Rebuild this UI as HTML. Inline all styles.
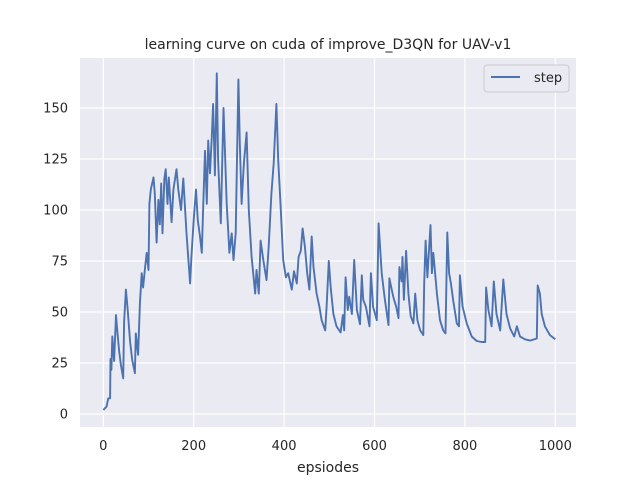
<!DOCTYPE html>
<html><head><meta charset="utf-8"><style>
body{margin:0;background:#fff;font-family:"Liberation Sans","DejaVu Sans",sans-serif;}
svg text{font-family:"DejaVu Sans","Liberation Sans",sans-serif;fill:#262626;}
</style></head><body>
<svg id="chart" width="640" height="480" viewBox="0 0 640 480">
<rect x="0" y="0" width="640" height="480" fill="#fff"/>
<rect x="80" y="58" width="496" height="369" fill="#eaeaf2"/>
<g id="grid"></g>
<g id="ticks"></g>
<path id="line" fill="none" stroke="#4c72b0" stroke-width="1.9" stroke-linejoin="round"/>
<text x="328" y="49" font-size="14" text-anchor="middle">learning curve on cuda of improve_D3QN for UAV-v1</text>
<text x="328" y="472" font-size="14" text-anchor="middle">epsiodes</text>
<g>
<rect x="484" y="65" width="85" height="27" rx="3" fill="#eaeaf2" stroke="#cccccc" stroke-width="1"/>
<line x1="491" y1="77" x2="520" y2="77" stroke="#4c72b0" stroke-width="1.9"/>
<text x="534" y="82" font-size="13">step</text>
</g>
</svg>
<script>
const episodes=[0,7,11,15,16,18,20,24,28,30,35,39,44,46,50,54,59,64,70,72,77,81,85,88,92,96,100,102,105,111,114,118,122,125,128,131,135,138,142,145,151,155,162,166,172,177,184,192,195,200,205,209,214,218,221,225,229,232,236,240,243,247,251,254,260,266,273,279,284,288,293,299,302,306,311,317,322,328,336,339,344,348,354,361,366,372,377,383,387,392,398,404,409,417,422,428,432,437,441,446,451,456,461,465,472,478,483,491,494,499,503,509,516,525,530,533,536,541,544,550,555,561,568,572,575,581,589,592,597,605,609,616,623,631,633,638,642,648,653,655,660,662,665,670,675,680,686,690,695,701,708,710,713,717,721,724,727,730,738,745,752,757,761,765,769,774,782,787,789,795,804,815,826,837,845,847,852,859,864,870,878,885,892,900,909,915,922,933,944,959,961,966,970,977,988,1000];
const steps=[2,3.6,7.7,7.7,27,21.6,38,26,48.5,43,31,24,17.5,45,61,51,36,26.5,20,39.5,29,54,69,62,71,79,70.6,103,110,116,108,84,105,93,113,88.6,115,120,103,116,94,110,120,110,100,115.5,88.6,64,77,95,110,95,87,79,101.6,129,103,134,118,136,152,117,167,124.5,93.5,150,103,79,88.6,75.5,88.6,164,133,103,123,138,100,77,59,70.6,59,85,75.5,65.7,82,108,123,152,124.5,103,75.5,67,69,61,70,64,77,80,91,82,69,61,87,72,59,52.6,46,41,52.6,75,62,49,43,40,48.5,41,67,51,57.5,49,75.5,51,44,68,56,52.6,43,69,52.6,46,93.5,69,56,43.6,66.5,61,57,52.6,47,72,65,77,56,80,59,48,44.4,59,46,41,38.7,64,85,67,82,92.6,69,79,59,46,41,39.5,89,69,64,56,44.4,43,68,52.6,44.4,38,35.8,35.3,35.3,62,51,43,65,49,41,66,49,42,38,43,38,36.6,36,37,63,59,49,43,38.7,36.6];
const xTicks=[0,200,400,600,800,1000];
const yTicks=[0,25,50,75,100,125,150];
const xs=v=>103.3+v*0.452;
const ys=v=>414-v*2.04;
const NS="http://www.w3.org/2000/svg";
const grid=document.getElementById('grid'),ticks=document.getElementById('ticks');
xTicks.forEach(t=>{
 const l=document.createElementNS(NS,'line');
 l.setAttribute('x1',xs(t));l.setAttribute('x2',xs(t));l.setAttribute('y1',58);l.setAttribute('y2',427);
 l.setAttribute('stroke','#fff');l.setAttribute('stroke-width','1.2');
 
 
 grid.appendChild(l);
 const tx=document.createElementNS(NS,'text');
 tx.setAttribute('x',xs(t));tx.setAttribute('y',450);tx.setAttribute('font-size','13');tx.setAttribute('text-anchor','middle');
 tx.textContent=t;
 
 
 ticks.appendChild(tx);
});
yTicks.forEach(t=>{
 const l=document.createElementNS(NS,'line');
 l.setAttribute('x1',80);l.setAttribute('x2',576);l.setAttribute('y1',ys(t));l.setAttribute('y2',ys(t));
 l.setAttribute('stroke','#fff');l.setAttribute('stroke-width','1.2');
 
 
 grid.appendChild(l);
 const tx=document.createElementNS(NS,'text');
 tx.setAttribute('x',68);tx.setAttribute('y',ys(t)+4.5);tx.setAttribute('font-size','13');tx.setAttribute('text-anchor','end');
 tx.textContent=t;
 
 
 ticks.appendChild(tx);
});
document.getElementById('line').setAttribute('d',episodes.map((e,i)=>(i?'L':'M')+xs(e).toFixed(1)+','+ys(steps[i]).toFixed(1)).join(''));
</script>
</body></html>
